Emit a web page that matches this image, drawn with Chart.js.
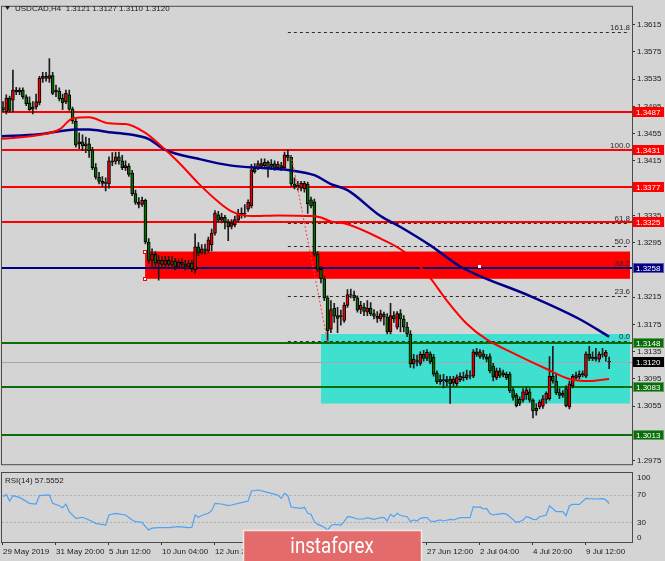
<!DOCTYPE html>
<html>
<head>
<meta charset="utf-8">
<title>USDCAD H4</title>
<script src="https://cdn.jsdelivr.net/npm/chart.js@4.4.1/dist/chart.umd.min.js"></script>
<style>
  html, body { margin: 0; padding: 0; background: #d4d4d4; }
  #wrap { position: relative; width: 665px; height: 561px; overflow: hidden; }
  #mainChart { position: absolute; left: 0; top: 0; }
  #rsiChart { position: absolute; left: 0; top: 471px; }
</style>
</head>
<body>
<div id="wrap">
  <canvas id="mainChart" width="665" height="471"></canvas>
  <canvas id="rsiChart" width="665" height="90"></canvas>
</div>
<script>
// H4 bars (index 0 = first bar on the left)
const barOpen = [
  1.3490,1.3493,1.3487,1.3507,1.3504,1.3519,1.3516,1.3519,1.3509,1.3500,
  1.3491,1.3494,1.3500,1.3536,1.3539,1.3536,1.3540,1.3516,1.3517,1.3507,
  1.3502,1.3512,1.3491,1.3473,1.3440,1.3443,1.3437,1.3440,1.3431,1.3405,
  1.3391,1.3385,1.3382,1.3381,1.3415,1.3414,1.3421,1.3415,1.3405,1.3407,
  1.3397,1.3367,1.3354,1.3351,1.3357,1.3296,1.3269,1.3278,1.3265,1.3269,
  1.3263,1.3269,1.3263,1.3268,1.3260,1.3266,1.3263,1.3260,1.3265,1.3255,
  1.3289,1.3280,1.3286,1.3283,1.3292,1.3309,1.3336,1.3328,1.3332,1.3325,
  1.3319,1.3321,1.3328,1.3338,1.3338,1.3344,1.3349,1.3404,1.3405,1.3411,
  1.3408,1.3413,1.3407,1.3411,1.3405,1.3408,1.3405,1.3423,1.3420,1.3381,
  1.3377,1.3375,1.3374,1.3381,1.3358,1.3355,1.3278,1.3256,1.3242,1.3214,
  1.3168,1.3199,1.3188,1.3186,1.3181,1.3203,1.3219,1.3218,1.3214,1.3197,
  1.3200,1.3193,1.3199,1.3191,1.3187,1.3183,1.3190,1.3186,1.3164,1.3188,
  1.3171,1.3191,1.3183,1.3171,1.3161,1.3117,1.3122,1.3118,1.3131,1.3125,
  1.3132,1.3127,1.3104,1.3094,1.3092,1.3094,1.3095,1.3089,1.3088,1.3094,
  1.3098,1.3097,1.3099,1.3099,1.3135,1.3128,1.3132,1.3127,1.3128,1.3114,
  1.3097,1.3107,1.3101,1.3102,1.3102,1.3079,1.3071,1.3065,1.3064,1.3072,
  1.3076,1.3064,1.3052,1.3054,1.3055,1.3065,1.3066,1.3099,1.3092,1.3075,
  1.3071,1.3081,1.3054,1.3085,1.3097,1.3098,1.3101,1.3099,1.3131,1.3125,
  1.3127,1.3124,1.3131,1.3128,1.3121
];
const barHigh = [
  1.3496,1.3502,1.3512,1.3510,1.3548,1.3523,1.3522,1.3522,1.3512,1.3509,
  1.3502,1.3513,1.3539,1.3545,1.3545,1.3565,1.3545,1.3526,1.3522,1.3513,
  1.3519,1.3519,1.3494,1.3476,1.3456,1.3453,1.3450,1.3448,1.3435,1.3411,
  1.3398,1.3392,1.3390,1.3421,1.3427,1.3428,1.3428,1.3423,1.3415,1.3411,
  1.3401,1.3372,1.3361,1.3362,1.3359,1.3301,1.3286,1.3282,1.3276,1.3275,
  1.3275,1.3275,1.3275,1.3272,1.3270,1.3272,1.3269,1.3269,1.3269,1.3308,
  1.3295,1.3292,1.3293,1.3303,1.3315,1.3342,1.3341,1.3338,1.3335,1.3329,
  1.3329,1.3334,1.3344,1.3346,1.3351,1.3358,1.3410,1.3411,1.3415,1.3418,
  1.3418,1.3415,1.3417,1.3415,1.3414,1.3413,1.3428,1.3431,1.3423,1.3390,
  1.3385,1.3385,1.3385,1.3384,1.3362,1.3359,1.3282,1.3260,1.3246,1.3217,
  1.3210,1.3206,1.3200,1.3196,1.3207,1.3226,1.3227,1.3224,1.3217,1.3209,
  1.3206,1.3210,1.3207,1.3197,1.3194,1.3196,1.3193,1.3191,1.3206,1.3194,
  1.3194,1.3197,1.3188,1.3178,1.3166,1.3131,1.3130,1.3135,1.3137,1.3138,
  1.3135,1.3131,1.3107,1.3101,1.3102,1.3099,1.3099,1.3099,1.3101,1.3104,
  1.3105,1.3108,1.3107,1.3138,1.3140,1.3138,1.3137,1.3131,1.3132,1.3118,
  1.3111,1.3111,1.3108,1.3105,1.3105,1.3082,1.3074,1.3069,1.3081,1.3083,
  1.3081,1.3066,1.3059,1.3064,1.3071,1.3076,1.3128,1.3143,1.3102,1.3081,
  1.3078,1.3085,1.3092,1.3102,1.3105,1.3107,1.3107,1.3135,1.3143,1.3135,
  1.3140,1.3135,1.3140,1.3137,1.3127
];
const barLow = [
  1.3484,1.3487,1.3484,1.3486,1.3487,1.3512,1.3512,1.3506,1.3496,1.3489,
  1.3484,1.3491,1.3497,1.3530,1.3532,1.3530,1.3512,1.3509,1.3503,1.3490,
  1.3499,1.3489,1.3470,1.3435,1.3433,1.3430,1.3427,1.3420,1.3402,1.3388,
  1.3381,1.3377,1.3371,1.3375,1.3408,1.3410,1.3410,1.3402,1.3401,1.3392,
  1.3364,1.3351,1.3346,1.3348,1.3293,1.3265,1.3257,1.3260,1.3240,1.3257,
  1.3257,1.3260,1.3257,1.3255,1.3257,1.3259,1.3255,1.3256,1.3252,1.3250,
  1.3276,1.3278,1.3278,1.3280,1.3283,1.3306,1.3325,1.3324,1.3315,1.3298,
  1.3315,1.3318,1.3325,1.3331,1.3332,1.3341,1.3346,1.3397,1.3402,1.3404,
  1.3405,1.3391,1.3402,1.3401,1.3404,1.3401,1.3402,1.3415,1.3378,1.3374,
  1.3372,1.3371,1.3369,1.3338,1.3346,1.3275,1.3252,1.3236,1.3210,1.3150,
  1.3163,1.3178,1.3163,1.3174,1.3178,1.3200,1.3214,1.3210,1.3193,1.3191,
  1.3188,1.3188,1.3188,1.3183,1.3178,1.3180,1.3174,1.3161,1.3161,1.3178,
  1.3168,1.3164,1.3164,1.3157,1.3112,1.3111,1.3114,1.3115,1.3121,1.3122,
  1.3117,1.3099,1.3088,1.3087,1.3082,1.3085,1.3059,1.3084,1.3085,1.3091,
  1.3092,1.3094,1.3095,1.3097,1.3128,1.3125,1.3124,1.3120,1.3104,1.3092,
  1.3094,1.3097,1.3098,1.3094,1.3075,1.3064,1.3054,1.3056,1.3061,1.3065,
  1.3061,1.3038,1.3042,1.3051,1.3052,1.3059,1.3064,1.3089,1.3072,1.3066,
  1.3068,1.3054,1.3051,1.3082,1.3094,1.3095,1.3098,1.3097,1.3122,1.3122,
  1.3121,1.3120,1.3127,1.3121,1.3110
];
const barClose = [
  1.3493,1.3490,1.3507,1.3489,1.3519,1.3516,1.3519,1.3509,1.3499,1.3490,
  1.3494,1.3502,1.3536,1.3539,1.3536,1.3540,1.3514,1.3519,1.3506,1.3500,
  1.3514,1.3491,1.3474,1.3438,1.3443,1.3437,1.3440,1.3430,1.3405,1.3391,
  1.3385,1.3382,1.3384,1.3415,1.3413,1.3421,1.3415,1.3405,1.3408,1.3395,
  1.3367,1.3354,1.3351,1.3357,1.3296,1.3269,1.3278,1.3265,1.3269,1.3263,
  1.3269,1.3263,1.3268,1.3260,1.3266,1.3263,1.3260,1.3265,1.3257,1.3289,
  1.3280,1.3286,1.3282,1.3299,1.3309,1.3338,1.3328,1.3332,1.3325,1.3318,
  1.3324,1.3329,1.3338,1.3335,1.3337,1.3354,1.3402,1.3399,1.3411,1.3407,
  1.3413,1.3405,1.3410,1.3404,1.3410,1.3405,1.3424,1.3420,1.3381,1.3377,
  1.3379,1.3382,1.3382,1.3352,1.3349,1.3278,1.3256,1.3242,1.3214,1.3166,
  1.3197,1.3187,1.3184,1.3188,1.3203,1.3219,1.3218,1.3214,1.3196,1.3203,
  1.3194,1.3199,1.3191,1.3187,1.3184,1.3191,1.3186,1.3164,1.3188,1.3183,
  1.3191,1.3183,1.3171,1.3161,1.3117,1.3124,1.3120,1.3131,1.3125,1.3134,
  1.3120,1.3102,1.3091,1.3091,1.3094,1.3091,1.3088,1.3095,1.3097,1.3099,
  1.3097,1.3101,1.3100,1.3135,1.3131,1.3135,1.3127,1.3124,1.3107,1.3098,
  1.3107,1.3099,1.3104,1.3097,1.3078,1.3068,1.3056,1.3059,1.3076,1.3079,
  1.3064,1.3048,1.3048,1.3061,1.3066,1.3074,1.3099,1.3092,1.3075,1.3071,
  1.3074,1.3056,1.3088,1.3099,1.3100,1.3102,1.3103,1.3132,1.3125,1.3127,
  1.3124,1.3131,1.3132,1.3134,1.3120
];

// moving averages, sampled along the curves
const maBlueIdx = [0, 12, 23, 27, 33, 39, 45, 50, 60, 70, 81, 88, 95, 100, 105, 115, 121, 130, 139, 145, 160, 175, 184];
const maBlueVal = [1.3451, 1.3454, 1.3461, 1.3461, 1.3457, 1.3454, 1.3447, 1.3431, 1.3418, 1.3408, 1.3404, 1.3401, 1.3394, 1.3381, 1.3372, 1.3334, 1.3318, 1.3291, 1.3260, 1.3246, 1.3217, 1.3183, 1.3157];
const maRedIdx = [0, 12, 18, 22, 27, 33, 38, 44, 48, 54, 60, 66, 70, 76, 84, 94, 97, 100, 105, 115, 122, 130, 135, 141, 147, 155, 165, 172, 178, 184];
const maRedVal = [1.3447, 1.3453, 1.3461, 1.3477, 1.3479, 1.3470, 1.3469, 1.3456, 1.3440, 1.3413, 1.3382, 1.3355, 1.3341, 1.3334, 1.3335, 1.3334, 1.3332, 1.3326, 1.3322, 1.3301, 1.3282, 1.3243, 1.3210, 1.3176, 1.3153, 1.3133, 1.3110, 1.3095, 1.3092, 1.3095];

// RSI(14)
const rsiIdx = [1,2,3,4,6,9,11,12,15,16,18,19,20,21,23,25,27,29,32,33,35,38,40,41,43,44,45,46,48,51,54,57,58,59,60,61,63,64,65,67,
  69,70,73,75,76,78,80,82,84,85,86,87,88,89,91,92,93,94,95,96,97,98,99,100,101,103,104,105,106,108,110,111,113,115,116,117,118,119,120,121,
  123,124,125,126,127,128,129,130,131,133,134,136,137,139,141,142,143,144,145,146,147,148,149,150,152,153,154,156,157,158,
  159,160,161,162,163,165,166,167,168,170,171,172,173,175,177,178,180,182,183,184];
const rsiVal = [67.6,71.0,61.3,69.1,66.6,57.9,56.9,69.1,70.1,57.9,54.4,51.5,56.9,45.7,35.9,37.4,33.5,28.6,26.1,40.8,
  43.2,40.8,33.5,31.0,30.0,23.7,18.8,21.5,22.2,22.2,23.7,22.2,22.5,40.8,37.4,40.0,43.2,47.0,57.9,56.9,
  54.4,55.4,58.8,61.3,75.9,77.4,74.9,72.5,70.1,65.2,72.5,69.0,52.5,51.5,50.5,52.0,43.2,42.0,31.0,27.0,
  25.2,22.7,18.8,25.0,27.1,26.1,31.0,38.3,38.0,34.9,34.9,36.9,34.4,36.9,37.4,32.0,41.8,38.3,43.2,40.0,
  38.3,31.0,33.5,32.0,35.9,36.9,37.0,32.0,31.0,33.5,32.0,34.4,33.5,36.9,36.9,37.0,53.0,52.0,52.5,49.6,
  50.5,43.0,40.8,41.8,43.2,42.0,38.3,30.0,31.0,33.5,38.3,36.9,34.4,34.0,38.3,40.8,54.4,50.0,45.7,45.7,
  39.8,54.4,56.4,56.4,65.2,64.7,64.2,64.7,63.0,57.6];
const rsiLevels = [70, 30];
const rsiTickVals = [100, 70, 30, 0];

// drawn objects
const levelRed = [1.3487, 1.3431, 1.3377, 1.3325];
const levelBlue = [1.3258];
const levelGreen = [1.3148, 1.3083, 1.3013];
const lastPrice = 1.3120;
const fibRatios = [161.8, 100.0, 61.8, 50.0, 38.2, 23.6, 0.0];
const fibHigh = [87, 1.3431];
const fibLow = [99, 1.3150];
const trendFrom = [88, 1.3423];
const trendTo = [99, 1.3150];
const zoneRed = [43.9, 1.3282, 1.3242];
const zoneCyan = [97.0, 1.3161, 1.3059];
const zoneHandle = [144.8, 1.3261];

const priceTicks = [1.2975, 1.3015, 1.3055, 1.3095, 1.3135, 1.3175, 1.3215, 1.3255, 1.3295,
  1.3335, 1.3375, 1.3415, 1.3455, 1.3495, 1.3535, 1.3575, 1.3615];
const dateTickIdx = [1, 17, 33, 49, 65, 81, 97, 113, 129, 145, 161, 177];
const dateLabels = ['29 May 2019', '31 May 20:00', '5 Jun 12:00', '10 Jun 04:00', '12 Jun 20:00', '17 Jun 12:00',
  '20 Jun 04:00', '24 Jun 20:00', '27 Jun 12:00', '2 Jul 04:00', '4 Jul 20:00', '9 Jul 12:00'];

const X_MIN = 0.7, X_MAX = 190.9;
const FONT = '8px "Liberation Sans", Arial, sans-serif';

Chart.defaults.font.family = '"Liberation Sans", Arial, sans-serif';
Chart.defaults.font.size = 8;
Chart.defaults.animation = false;

function fibPrice(r) {
  return fibLow[1] + (fibHigh[1] - fibLow[1]) * r / 100;
}

const bodies = barOpen.map((o, i) => ({ x: i, y: [o, barClose[i]] }));
const wicks = barOpen.map((o, i) => ({ x: i, y: [barLow[i], barHigh[i]] }));
const bodyColors = barOpen.map((o, i) => barClose[i] > o ? '#e80000' : (barClose[i] < o ? '#006c00' : '#111'));

const chartOverlay = {
  id: 'chartOverlay',
  beforeDatasetsDraw(chart) {
    const { ctx, chartArea: a, scales: { x, y } } = chart;
    const hline = (v, color, w) => {
      const py = Math.round(y.getPixelForValue(v)) + (w % 2 ? 0.5 : 0);
      ctx.strokeStyle = color; ctx.lineWidth = w;
      ctx.beginPath(); ctx.moveTo(a.left, py); ctx.lineTo(a.right, py); ctx.stroke();
    };
    const zone = (z, color) => {
      const x0 = x.getPixelForValue(z[0]);
      const y0 = y.getPixelForValue(z[1]), y1 = y.getPixelForValue(z[2]);
      ctx.fillStyle = color;
      ctx.fillRect(x0, y0, a.right - 2 - x0, y1 - y0);
    };
    ctx.save();
    ctx.beginPath(); ctx.rect(a.left, a.top, a.right - a.left, a.bottom - a.top); ctx.clip();
    zone(zoneCyan, '#40e0d0');
    zone(zoneRed, '#ff0000');

    // fibonacci levels
    const fx = x.getPixelForValue(fibHigh[0]);
    ctx.setLineDash([3, 3]); ctx.strokeStyle = '#2a2a2a'; ctx.lineWidth = 1;
    fibRatios.forEach(r => {
      const py = Math.round(y.getPixelForValue(fibPrice(r))) + 0.5;
      ctx.beginPath(); ctx.moveTo(fx, py); ctx.lineTo(a.right - 2, py); ctx.stroke();
    });
    ctx.setLineDash([]);

    hline(lastPrice, '#a3a7b3', 1);
    levelRed.forEach(v => hline(v, '#ff0000', 2));
    levelBlue.forEach(v => hline(v, '#000080', 2));
    levelGreen.forEach(v => hline(v, '#0b6e0b', 2));
    ctx.restore();
  },
  afterDatasetsDraw(chart) {
    const { ctx, chartArea: a, scales: { x, y } } = chart;
    ctx.save();
    // trend line from the swing high to the swing low
    ctx.setLineDash([2, 2]); ctx.strokeStyle = '#ff3a3a'; ctx.lineWidth = 1;
    ctx.beginPath();
    ctx.moveTo(x.getPixelForValue(trendFrom[0]), y.getPixelForValue(trendFrom[1]));
    ctx.lineTo(x.getPixelForValue(trendTo[0]), y.getPixelForValue(trendTo[1]));
    ctx.stroke();
    ctx.setLineDash([]);

    // fib labels
    ctx.font = FONT; ctx.fillStyle = '#2a2a2a'; ctx.textAlign = 'right'; ctx.textBaseline = 'alphabetic';
    fibRatios.forEach(r => {
      ctx.fillText(r.toFixed(1), a.right - 2, y.getPixelForValue(fibPrice(r)) - 2);
    });

    // selection handles of the red zone
    const hx = Math.round(x.getPixelForValue(zoneRed[0]));
    [zoneRed[1], zoneRed[2]].forEach(v => {
      const hy = Math.round(y.getPixelForValue(v));
      ctx.fillStyle = '#ffffff'; ctx.fillRect(hx - 2, hy - 2, 4, 4);
      ctx.strokeStyle = '#ff0000'; ctx.lineWidth = 1; ctx.strokeRect(hx - 1.5, hy - 1.5, 3, 3);
    });
    ctx.fillStyle = '#ffffff';
    ctx.fillRect(Math.round(x.getPixelForValue(zoneHandle[0])) - 1, Math.round(y.getPixelForValue(zoneHandle[1])) - 1, 3, 3);
    ctx.restore();
  },
  afterDraw(chart) {
    const { ctx, chartArea: a, scales: { y } } = chart;
    ctx.save();
    // frame
    ctx.strokeStyle = '#4a4a4a'; ctx.lineWidth = 1;
    ctx.strokeRect(a.left - 0.5, a.top - 0.5, a.right - a.left + 1, a.bottom - a.top + 1);

    // price boxes on the axis
    const box = (v, fill, edge) => {
      const py = Math.round(y.getPixelForValue(v));
      ctx.fillStyle = fill; ctx.fillRect(a.right + 1, py - 5, 31, 10);
      if (edge) { ctx.strokeStyle = edge; ctx.strokeRect(a.right + 1.5, py - 4.5, 30, 9); }
      ctx.fillStyle = '#ffffff'; ctx.font = FONT; ctx.textAlign = 'left'; ctx.textBaseline = 'middle';
      ctx.fillText(v.toFixed(4), a.right + 4, py + 0.5);
    };
    levelRed.forEach(v => box(v, '#ff0000', null));
    levelBlue.forEach(v => box(v, '#000080', '#5a5ab0'));
    levelGreen.forEach(v => box(v, '#0b6e0b', '#5fa05f'));
    box(lastPrice, '#000000', null);

    // header
    ctx.fillStyle = '#1a1a1a';
    ctx.beginPath(); ctx.moveTo(5, 6); ctx.lineTo(10, 6); ctx.lineTo(7.5, 10); ctx.closePath(); ctx.fill();
    ctx.font = FONT; ctx.textAlign = 'left'; ctx.textBaseline = 'middle';
    const o = barOpen.length - 1;
    ctx.fillText('USDCAD,H4  ' + [barOpen[o], barHigh[o], barLow[o], barClose[o]].map(v => v.toFixed(4)).join(' '), 15, 8.5);
    ctx.restore();
  }
};

new Chart(document.getElementById('mainChart'), {
  type: 'bar',
  data: {
    datasets: [
      { type: 'line', label: 'MA fast', data: maRedIdx.map((v, i) => ({ x: v, y: maRedVal[i] })),
        borderColor: '#ff0000', borderWidth: 2, pointRadius: 0, cubicInterpolationMode: 'monotone', order: 1 },
      { type: 'line', label: 'MA slow', data: maBlueIdx.map((v, i) => ({ x: v, y: maBlueVal[i] })),
        borderColor: '#00008b', borderWidth: 2.5, pointRadius: 0, cubicInterpolationMode: 'monotone', order: 2 },
      { label: 'body', data: bodies, backgroundColor: bodyColors, borderColor: '#000', borderWidth: 1,
        borderSkipped: false, barThickness: 3, grouped: false, order: 3 },
      { label: 'wick', data: wicks, backgroundColor: '#1c1c1c', borderWidth: 0,
        barThickness: 1, grouped: false, order: 4 }
    ]
  },
  options: {
    responsive: false,
    devicePixelRatio: 1,
    events: [],
    layout: { padding: { left: 2, top: 3, right: 0, bottom: 1 }, autoPadding: false },
    plugins: { legend: { display: false }, tooltip: { enabled: false } },
    scales: {
      x: { type: 'linear', min: X_MIN, max: X_MAX, offset: false, display: false },
      y: {
        position: 'right', min: 1.2970, max: 1.3641,
        afterFit: s => { s.width = 33; },
        afterBuildTicks: s => { s.ticks = priceTicks.map(v => ({ value: v })); },
        grid: { drawOnChartArea: false, tickLength: 3, color: '#333' },
        border: { color: '#4a4a4a' },
        ticks: { autoSkip: false, padding: 2, color: '#1a1a1a', callback: v => v.toFixed(4) }
      }
    }
  },
  plugins: [chartOverlay]
});

const rsiOverlay = {
  id: 'rsiOverlay',
  beforeDatasetsDraw(chart) {
    const { ctx, chartArea: a, scales: { y } } = chart;
    ctx.save();
    ctx.setLineDash([2, 2]); ctx.strokeStyle = '#b0b0b0'; ctx.lineWidth = 1;
    rsiLevels.forEach(v => {
      const py = Math.round(y.getPixelForValue(v)) + 0.5;
      ctx.beginPath(); ctx.moveTo(a.left, py); ctx.lineTo(a.right, py); ctx.stroke();
    });
    ctx.restore();
  },
  afterDraw(chart) {
    const { ctx, chartArea: a, scales: { y } } = chart;
    ctx.save();
    ctx.strokeStyle = '#4a4a4a'; ctx.lineWidth = 1;
    ctx.strokeRect(a.left - 0.5, a.top - 0.5, a.right - a.left + 1, a.bottom - a.top + 1);

    ctx.font = FONT; ctx.fillStyle = '#1a1a1a'; ctx.textAlign = 'left'; ctx.textBaseline = 'middle';
    rsiTickVals.forEach(v => {
      const py = Math.min(Math.max(y.getPixelForValue(v), a.top + 5), a.bottom - 4);
      ctx.fillText(String(v), a.right + 5, py);
    });
    ctx.fillText('RSI(14) ' + (57.5552).toFixed(4), 5, a.top + 8);

    // watermark
    ctx.fillStyle = '#e36b6b';
    ctx.fillRect(243, 59, 179, 32);
    ctx.strokeStyle = 'rgba(250,250,250,0.85)'; ctx.lineWidth = 1.5;
    ctx.strokeRect(243.5, 59.5, 178, 34);
    ctx.translate(332, 76);
    ctx.scale(0.85, 1);
    ctx.fillStyle = '#ffffff'; ctx.font = '22px Roboto, "Noto Sans", sans-serif';
    ctx.textAlign = 'center'; ctx.textBaseline = 'middle';
    ctx.fillText('instaforex', 0, 0);
    ctx.restore();
  }
};

new Chart(document.getElementById('rsiChart'), {
  type: 'line',
  data: {
    datasets: [{ label: 'RSI', data: rsiIdx.map((v, i) => ({ x: v, y: rsiVal[i] })),
      borderColor: '#4ea3f5', borderWidth: 1.2, pointRadius: 0, tension: 0 }]
  },
  options: {
    responsive: false,
    devicePixelRatio: 1,
    events: [],
    layout: { padding: { left: 2, top: 2, right: 0, bottom: 0 }, autoPadding: false },
    plugins: { legend: { display: false }, tooltip: { enabled: false } },
    scales: {
      x: {
        type: 'linear', min: X_MIN, max: X_MAX, offset: false,
        afterFit: s => { s.height = 19; },
        afterBuildTicks: s => { s.ticks = dateTickIdx.map(v => ({ value: v })); },
        grid: { drawOnChartArea: false, tickLength: 3, color: '#333' },
        border: { color: '#4a4a4a' },
        ticks: { autoSkip: false, maxRotation: 0, align: 'start', padding: 2, color: '#1a1a1a',
          callback: (v, i) => dateLabels[i] }
      },
      y: {
        position: 'right', min: 1.2, max: 102.3,
        afterFit: s => { s.width = 33; },
        grid: { display: false },
        border: { color: '#4a4a4a' },
        ticks: { display: false }
      }
    }
  },
  plugins: [rsiOverlay]
});
</script>
</body>
</html>
